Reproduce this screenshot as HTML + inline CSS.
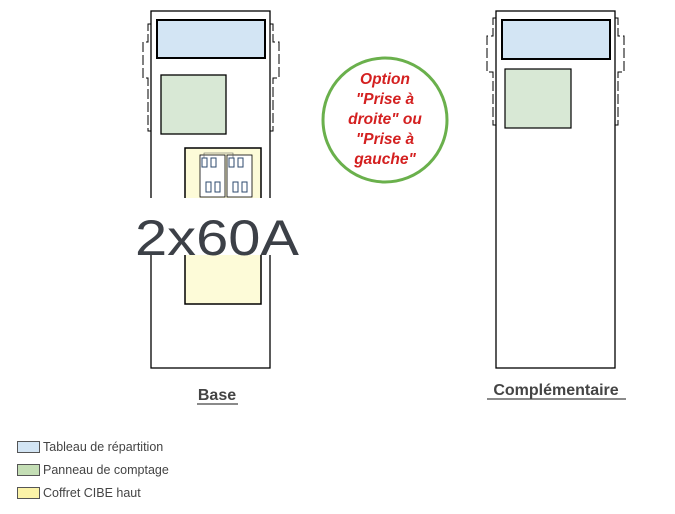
<!DOCTYPE html>
<html><head><meta charset="utf-8"><style>
html,body{margin:0;padding:0;background:#fff;width:675px;height:514px;overflow:hidden}
svg{display:block}
text{font-family:"Liberation Sans",sans-serif}
</style></head><body>
<svg width="675" height="514" viewBox="0 0 675 514" xmlns="http://www.w3.org/2000/svg">
<rect x="151" y="11" width="119" height="357" fill="#fff" stroke="#000" stroke-width="1.3"/>
<g fill="none" stroke="#000" stroke-width="1" stroke-dasharray="10,3">
<polyline points="151,24 148,24 148,42 143,42 143,78 148,78 148,131 151,131"/>
<polyline points="270,24 273,24 273,42 279,42 279,78 273,78 273,131 270,131"/>
<polyline points="496,18 493,18 493,36 487,36 487,72 493,72 493,125 496,125"/>
<polyline points="615,18 618,18 618,36 624,36 624,72 618,72 618,125 615,125"/>
</g>
<rect x="157" y="20" width="108" height="38" fill="#d3e5f4" stroke="#000" stroke-width="2"/>
<rect x="161" y="75" width="65" height="59" fill="#d8e8d5" stroke="#000" stroke-width="1.3"/>
<rect x="185" y="148" width="76" height="156" fill="#fdfbd8" stroke="#000" stroke-width="1.5"/>
<rect x="200" y="155" width="25" height="42" fill="#fff" stroke="#000" stroke-width="0.8"/>
<rect x="227" y="155" width="25" height="42" fill="#fff" stroke="#000" stroke-width="0.8"/>
<path d="M204,160 V153 H233 V160" fill="none" stroke="#555" stroke-width="0.6"/>
<g fill="#fff" stroke="#2d4a6e" stroke-width="1">
<rect x="202" y="158" width="5" height="9"/><rect x="211" y="158" width="5" height="9"/>
<rect x="229" y="158" width="5" height="9"/><rect x="238" y="158" width="5" height="9"/>
<rect x="206" y="182" width="5" height="10"/><rect x="215" y="182" width="5" height="10"/>
<rect x="233" y="182" width="5" height="10"/><rect x="242" y="182" width="5" height="10"/>
</g>
<rect x="135" y="198" width="166" height="57" fill="#fff"/>
<text x="217" y="255" font-size="50" fill="#3c4047" text-anchor="middle" textLength="164" lengthAdjust="spacingAndGlyphs">2x60A</text>
<text x="217" y="400" font-size="16" font-weight="bold" fill="#444" text-anchor="middle">Base</text>
<line x1="197" y1="404" x2="238" y2="404" stroke="#444" stroke-width="1.3"/>
<rect x="496" y="11" width="119" height="357" fill="#fff" stroke="#000" stroke-width="1.3"/>
<rect x="502" y="20" width="108" height="39" fill="#d3e5f4" stroke="#000" stroke-width="2"/>
<rect x="505" y="69" width="66" height="59" fill="#d8e8d5" stroke="#000" stroke-width="1.2"/>
<text x="556" y="395" font-size="16" font-weight="bold" fill="#444" text-anchor="middle">Complémentaire</text>
<line x1="487" y1="399" x2="626" y2="399" stroke="#444" stroke-width="1.3"/>
<circle cx="385" cy="120" r="62" fill="#fff" stroke="#6ab04c" stroke-width="3"/>
<g font-size="15.5" font-weight="bold" font-style="italic" fill="#d42020" text-anchor="middle">
<text x="385" y="84">Option</text>
<text x="385" y="104">"Prise à</text>
<text x="385" y="124">droite" ou</text>
<text x="385" y="144">"Prise à</text>
<text x="385" y="164">gauche"</text>
</g>
<rect x="17.5" y="441.5" width="22" height="11" fill="#d3e5f4" stroke="#555"/>
<rect x="17.5" y="464.5" width="22" height="11" fill="#c4deb5" stroke="#555"/>
<rect x="17.5" y="487.5" width="22" height="11" fill="#fbf3a8" stroke="#555"/>
<g font-size="12.5" fill="#444">
<text x="43" y="451">Tableau de répartition</text>
<text x="43" y="474">Panneau de comptage</text>
<text x="43" y="497">Coffret CIBE haut</text>
</g>
</svg>
</body></html>
